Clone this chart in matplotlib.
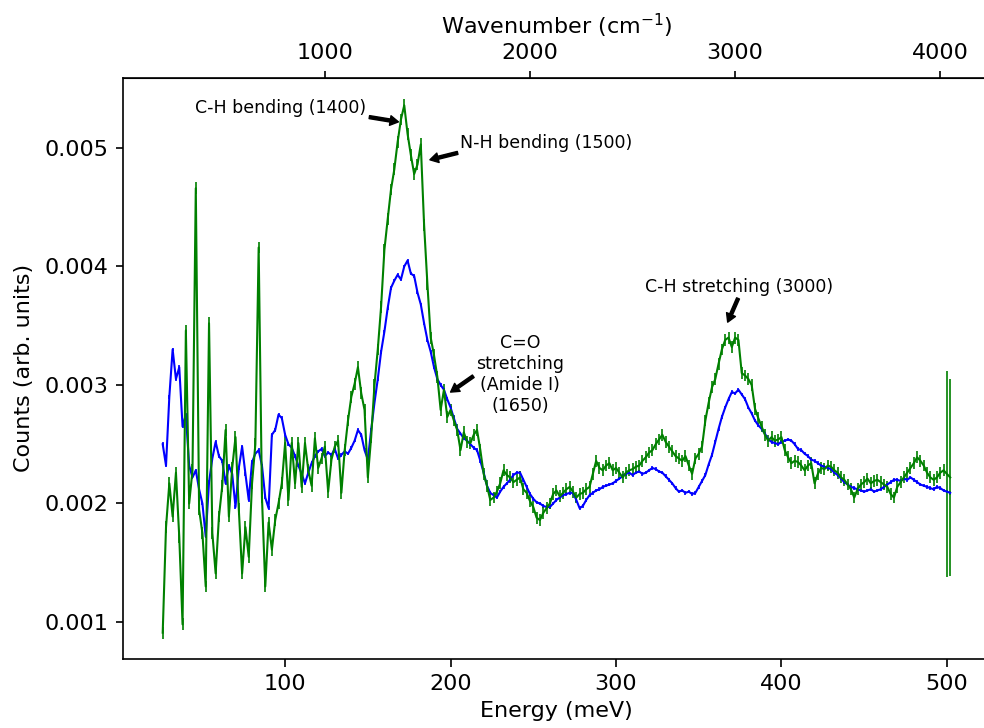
import numpy as np
import matplotlib
matplotlib.use("Agg")
from matplotlib import pyplot as plt

# energy bins (meV)
energy = np.arange(26, 503, 2)

blue = [
    0.00250, 0.00232, 0.00290, 0.00330, 0.00305, 0.00315, 0.00265, 0.00275, 0.00232, 0.00222,
    0.00228, 0.00212, 0.00200, 0.00172, 0.00218, 0.00238, 0.00252, 0.00240, 0.00236, 0.00217,
    0.00232, 0.00225, 0.00197, 0.00230, 0.00248, 0.00225, 0.00203, 0.00235, 0.00242, 0.00245,
    0.00232, 0.00205, 0.00196, 0.00258, 0.00262, 0.00275, 0.00272, 0.00258, 0.00250, 0.00247,
    0.00240, 0.00232, 0.00225, 0.00217, 0.00226, 0.00234, 0.00240, 0.00244, 0.00246, 0.00240,
    0.00243, 0.00241, 0.00246, 0.00238, 0.00241, 0.00244, 0.00242, 0.00247, 0.00253, 0.00262,
    0.00258, 0.00245, 0.00237, 0.00262, 0.00285, 0.00305, 0.00328, 0.00345, 0.00365, 0.00382,
    0.00388, 0.00393, 0.00389, 0.00400, 0.00405, 0.00394, 0.00392, 0.00378, 0.00368, 0.00352,
    0.00338, 0.00328, 0.00315, 0.00305, 0.00300, 0.00296, 0.00288, 0.00281, 0.00272, 0.00263,
    0.00259, 0.00255, 0.00253, 0.00250, 0.00247, 0.00245, 0.00236, 0.00226, 0.00215, 0.00209,
    0.00207, 0.00205, 0.00210, 0.00214, 0.00217, 0.00220, 0.00224, 0.00226, 0.00226, 0.00220,
    0.00214, 0.00208, 0.00204, 0.00201, 0.00200, 0.00198, 0.00197, 0.00197, 0.00200, 0.00203,
    0.00205, 0.00207, 0.00208, 0.00209, 0.00209, 0.00203, 0.00196, 0.00198, 0.00203, 0.00207,
    0.00209, 0.00211, 0.00212, 0.00214, 0.00215, 0.00216, 0.00217, 0.00219, 0.00221, 0.00223,
    0.00225, 0.00226, 0.00224, 0.00226, 0.00227, 0.00225, 0.00226, 0.00228, 0.00230, 0.00229,
    0.00227, 0.00226, 0.00223, 0.00220, 0.00217, 0.00213, 0.00210, 0.00211, 0.00209, 0.00210,
    0.00208, 0.00209, 0.00214, 0.00219, 0.00224, 0.00233, 0.00241, 0.00252, 0.00263, 0.00273,
    0.00281, 0.00288, 0.00294, 0.00293, 0.00296, 0.00292, 0.00288, 0.00281, 0.00276, 0.00270,
    0.00266, 0.00263, 0.00259, 0.00254, 0.00252, 0.00251, 0.00250, 0.00252, 0.00253, 0.00254,
    0.00253, 0.00250, 0.00246, 0.00245, 0.00242, 0.00240, 0.00237, 0.00236, 0.00234, 0.00232,
    0.00231, 0.00230, 0.00229, 0.00226, 0.00224, 0.00221, 0.00218, 0.00216, 0.00214, 0.00213,
    0.00212, 0.00211, 0.00210, 0.00211, 0.00212, 0.00210, 0.00211, 0.00212, 0.00214, 0.00216,
    0.00218, 0.00220, 0.00220, 0.00219, 0.00221, 0.00220, 0.00222, 0.00220, 0.00218, 0.00216,
    0.00215, 0.00214, 0.00213, 0.00212, 0.00214, 0.00213, 0.00211, 0.00210, 0.00209,
]

green = [
    0.00091, 0.00180, 0.00217, 0.00189, 0.00226, 0.00172, 0.00098, 0.00346, 0.00200, 0.00228,
    0.00466, 0.00195, 0.00175, 0.00130, 0.00352, 0.00175, 0.00141, 0.00189, 0.00215, 0.00262,
    0.00189, 0.00230, 0.00256, 0.00195, 0.00141, 0.00180, 0.00155, 0.00217, 0.00250, 0.00416,
    0.00205, 0.00130, 0.00184, 0.00161, 0.00186, 0.00200, 0.00217, 0.00251, 0.00203, 0.00251,
    0.00217, 0.00251, 0.00214, 0.00251, 0.00228, 0.00215, 0.00255, 0.00230, 0.00238, 0.00248,
    0.00210, 0.00237, 0.00248, 0.00253, 0.00209, 0.00245, 0.00270, 0.00290, 0.00301, 0.00315,
    0.00293, 0.00279, 0.00222, 0.00256, 0.00300, 0.00330, 0.00366, 0.00414, 0.00440, 0.00465,
    0.00482, 0.00505, 0.00524, 0.00536, 0.00512, 0.00494, 0.00478, 0.00486, 0.00503, 0.00435,
    0.00385, 0.00340, 0.00325, 0.00307, 0.00279, 0.00296, 0.00273, 0.00279, 0.00270, 0.00262,
    0.00245, 0.00260, 0.00252, 0.00251, 0.00258, 0.00262, 0.00245, 0.00225, 0.00215, 0.00203,
    0.00205, 0.00210, 0.00217, 0.00228, 0.00224, 0.00222, 0.00218, 0.00220, 0.00222, 0.00212,
    0.00209, 0.00202, 0.00197, 0.00188, 0.00186, 0.00192, 0.00196, 0.00200, 0.00208, 0.00211,
    0.00206, 0.00209, 0.00212, 0.00214, 0.00210, 0.00205, 0.00208, 0.00209, 0.00212, 0.00214,
    0.00225, 0.00236, 0.00230, 0.00228, 0.00232, 0.00234, 0.00228, 0.00230, 0.00226, 0.00222,
    0.00226, 0.00228, 0.00229, 0.00231, 0.00232, 0.00236, 0.00239, 0.00243, 0.00245, 0.00250,
    0.00254, 0.00258, 0.00252, 0.00248, 0.00244, 0.00240, 0.00238, 0.00236, 0.00240, 0.00232,
    0.00225, 0.00238, 0.00242, 0.00248, 0.00270, 0.00285, 0.00298, 0.00305, 0.00318, 0.00330,
    0.00338, 0.00340, 0.00332, 0.00340, 0.00338, 0.00310, 0.00308, 0.00305, 0.00300, 0.00280,
    0.00272, 0.00265, 0.00258, 0.00253, 0.00256, 0.00253, 0.00254, 0.00256, 0.00245, 0.00239,
    0.00234, 0.00236, 0.00235, 0.00232, 0.00228, 0.00232, 0.00234, 0.00217, 0.00225, 0.00230,
    0.00229, 0.00232, 0.00231, 0.00228, 0.00226, 0.00222, 0.00220, 0.00216, 0.00212, 0.00205,
    0.00212, 0.00216, 0.00218, 0.00221, 0.00217, 0.00219, 0.00220, 0.00218, 0.00216, 0.00214,
    0.00208, 0.00205, 0.00214, 0.00218, 0.00222, 0.00226, 0.00230, 0.00234, 0.00239, 0.00236,
    0.00232, 0.00226, 0.00222, 0.00220, 0.00222, 0.00226, 0.00228, 0.00225, 0.00222,
]

# error bars: small everywhere, huge on the last two bins of the green run
blue_err = 0.000015
green_err = [0.00005] * (len(green) - 2) + [0.00087, 0.00083]

MEV_PER_CM = 0.123984

fig = plt.figure(figsize=(9.84, 7.28), dpi=100)
ax = fig.add_axes([0.125, 0.0948, 0.881, 0.7985])

ax.errorbar(energy, blue, yerr=blue_err, color='blue', lw=1.5, elinewidth=1.2)
ax.errorbar(energy, green, yerr=green_err, color='green', lw=1.5, elinewidth=1.2)

ax.set_xlim(2, 526)
ax.set_ylim(0.000688, 0.005593)
ax.set_xticks([100, 200, 300, 400, 500])
ax.set_yticks([0.001, 0.002, 0.003, 0.004, 0.005])
ax.set_yticklabels(['0.001', '0.002', '0.003', '0.004', '0.005'])
ax.tick_params(labelsize=16, length=5.4, width=1.2, pad=5.4)
ax.set_xlabel('Energy (meV)', fontsize=16, labelpad=5)
ax.set_ylabel('Counts (arb. units)', fontsize=16, labelpad=7)
for s in ax.spines.values():
    s.set_linewidth(1.2)

top = ax.secondary_xaxis('top', functions=(lambda e: e / MEV_PER_CM, lambda w: w * MEV_PER_CM))
top.set_xticks([1000, 2000, 3000, 4000])
top.tick_params(labelsize=16, length=5.4, width=1.2, pad=5.4)
top.set_xlabel('Wavenumber (cm$^{-1}$)', fontsize=16, labelpad=6)

arrow = dict(facecolor='black', edgecolor='black', width=2.2, headwidth=7, headlength=6, shrink=0.0)
ax.annotate('C-H bending (1400)', xy=(168.5, 0.00522), xytext=(97.5, 0.00534),
            ha='center', va='center', fontsize=12.5, arrowprops=arrow)
ax.annotate('N-H bending (1500)', xy=(187.5, 0.00490), xytext=(258, 0.00504),
            ha='center', va='center', fontsize=12.5, arrowprops=arrow)
ax.annotate('C=O\nstretching\n(Amide I)\n(1650)', xy=(200, 0.00294), xytext=(242, 0.00309),
            ha='center', va='center', multialignment='center', fontsize=12.5, arrowprops=arrow)
ax.annotate('C-H stretching (3000)', xy=(367.5, 0.00353), xytext=(374.5, 0.00383),
            ha='center', va='center', fontsize=12.5, arrowprops=arrow)

plt.savefig('out.png', dpi=100)
